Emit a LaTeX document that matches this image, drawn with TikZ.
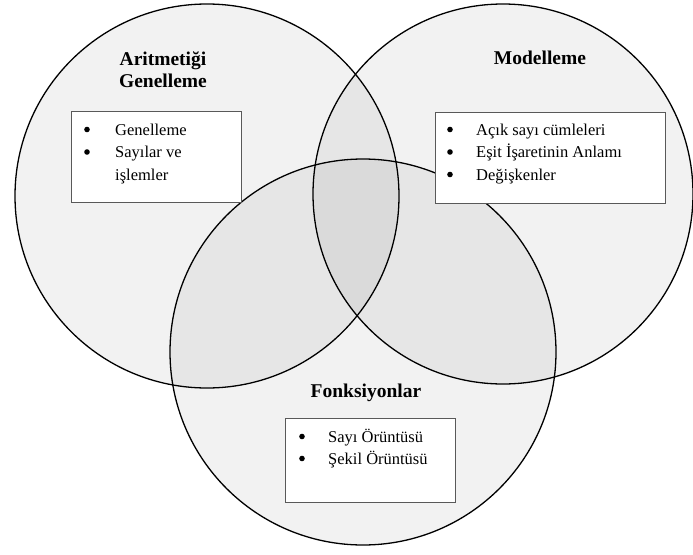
\documentclass[tikz,border=0pt]{standalone}
\usepackage{fontspec}
\setmainfont{Liberation Serif}
\begin{document}
\begin{tikzpicture}[x=1pt,y=-1pt,
  settint/.style={fill=black,fill opacity=0.05,draw=none},
  setline/.style={draw=black,line width=1.3pt},
  listbox/.style={draw=black!65,line width=0.8pt,fill=white,inner sep=0pt,anchor=north west},
  settitle/.style={inner sep=0pt,anchor=base,font=\fontsize{19.5}{22}\selectfont\bfseries,align=center},
  item/.style={inner sep=0pt,anchor=base west,font=\fontsize{16.5}{20}\selectfont},
  dot/.style={circle,fill=black,inner sep=0pt,minimum size=5.6pt,yshift=5.5pt}]
\useasboundingbox (0,0) rectangle (693,554);

% set centres
\coordinate (cA) at (207,196);
\coordinate (cM) at (503,194);
\coordinate (cF) at (363,352);

% translucent fills, overlaps get darker
\path[settint] (cA) circle (192pt);
\path[settint] (cM) circle (190pt);
\path[settint] (cF) circle (193pt);

% outlines
\draw[setline] (cA) circle (192pt);
\draw[setline] (cM) circle (190pt);
\draw[setline] (cF) circle (193pt);

% titles
\node[settitle] (tA1) at (163,65) {Aritmetiği};
\node[settitle] (tA2) at (163,87) {Genelleme};
\node[settitle] (tM) at (540,64) {Modelleme};
\node[settitle] (tF) at (366,397) {Fonksiyonlar};

% Aritmetiği Genelleme list
\node[listbox,minimum width=170pt,minimum height=91pt] (bA) at (71,111) {};
\node[dot] (dA1) at (87,135) {};
\node[item] (iA1) at (115,135) {Genelleme};
\node[dot] (dA2) at (87,157.5) {};
\node[item] (iA2) at (115,157.5) {Sayılar ve};
\node[item] (iA3) at (115,180) {işlemler};

% Modelleme list
\node[listbox,minimum width=230pt,minimum height=91pt] (bM) at (435,112) {};
\node[dot] (dM1) at (450,135) {};
\node[item] (iM1) at (476,135) {Açık sayı cümleleri};
\node[dot] (dM2) at (450,157.5) {};
\node[item] (iM2) at (476,157.5) {Eşit İşaretinin Anlamı};
\node[dot] (dM3) at (450,180) {};
\node[item] (iM3) at (476,180) {Değişkenler};

% Fonksiyonlar list
\node[listbox,minimum width=170pt,minimum height=84pt] (bF) at (285,418) {};
\node[dot] (dF1) at (302,442) {};
\node[item] (iF1) at (328,442) {Sayı Örüntüsü};
\node[dot] (dF2) at (302,464) {};
\node[item] (iF2) at (328,464) {Şekil Örüntüsü};
\end{tikzpicture}
\end{document}
